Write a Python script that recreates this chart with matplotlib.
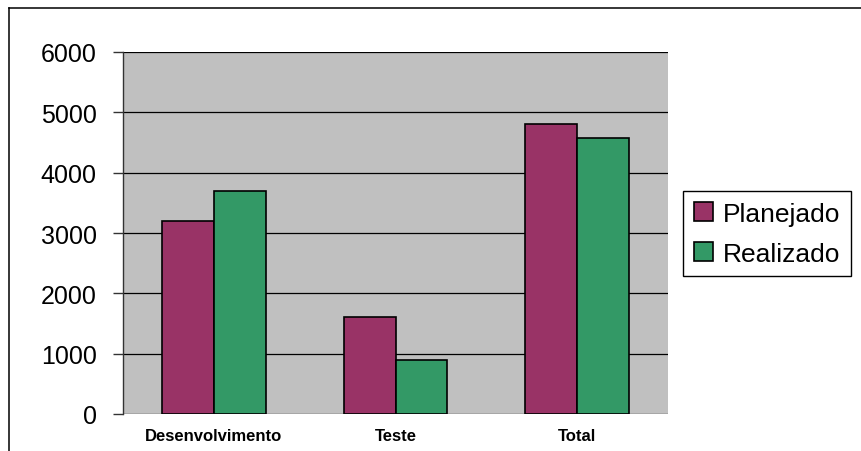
import matplotlib.pyplot as plt
from matplotlib.lines import Line2D
import numpy as np

# Data
categories = ['Desenvolvimento', 'Teste', 'Total']
planejado = [3200, 1600, 4800]
realizado = [3700, 900, 4570]
yticks = [0, 1000, 2000, 3000, 4000, 5000, 6000]

plt.rcParams['font.family'] = ['Liberation Sans', 'DejaVu Sans']

fig = plt.figure(figsize=(8.61, 4.52), dpi=100)
ax = fig.add_axes([123/861, 1 - 415/452, 545/861, 362/452])
ax.set_facecolor('#C0C0C0')

x = np.arange(len(categories))
w = 0.285
ax.bar(x - w/2, planejado, w, color='#993366', edgecolor='black', linewidth=1.2,
       label='Planejado', zorder=3)
ax.bar(x + w/2, realizado, w, color='#339966', edgecolor='black', linewidth=1.2,
       label='Realizado', zorder=3)

ax.set_xlim(-0.5, 2.5)
ax.set_ylim(0, 6000)
ax.set_yticks(yticks)
ax.set_yticklabels([str(v) for v in yticks], fontsize=18)
ax.set_xticks(x)
ax.set_xticklabels(categories, fontsize=12, fontweight='bold')
ax.tick_params(axis='y', length=7, width=1, color='#333333', pad=12)
ax.tick_params(axis='x', length=0, pad=10)
ax.yaxis.grid(True, color='black', linewidth=0.9, zorder=1)
ax.set_axisbelow(True)

for s in ['top', 'right', 'bottom']:
    ax.spines[s].set_visible(False)
ax.spines['left'].set_color('#333333')
ax.spines['left'].set_linewidth(1)

fig.legend(loc='upper left', bbox_to_anchor=(683/861, 1 - 192/452), borderaxespad=0,
           fontsize=19, frameon=True, fancybox=False, edgecolor='black',
           handlelength=0.72, handleheight=0.72, handletextpad=0.38,
           borderpad=0.4, labelspacing=0.62, framealpha=1)

# outer border (left and top only visible)
fig.add_artist(Line2D([8.5/861, 8.5/861], [0, 1 - 8.5/452], color='black', linewidth=1.1,
                      transform=fig.transFigure))
fig.add_artist(Line2D([8.5/861, 1], [1 - 8.5/452, 1 - 8.5/452], color='black', linewidth=1.1,
                      transform=fig.transFigure))

fig.savefig('out.png', dpi=100)
